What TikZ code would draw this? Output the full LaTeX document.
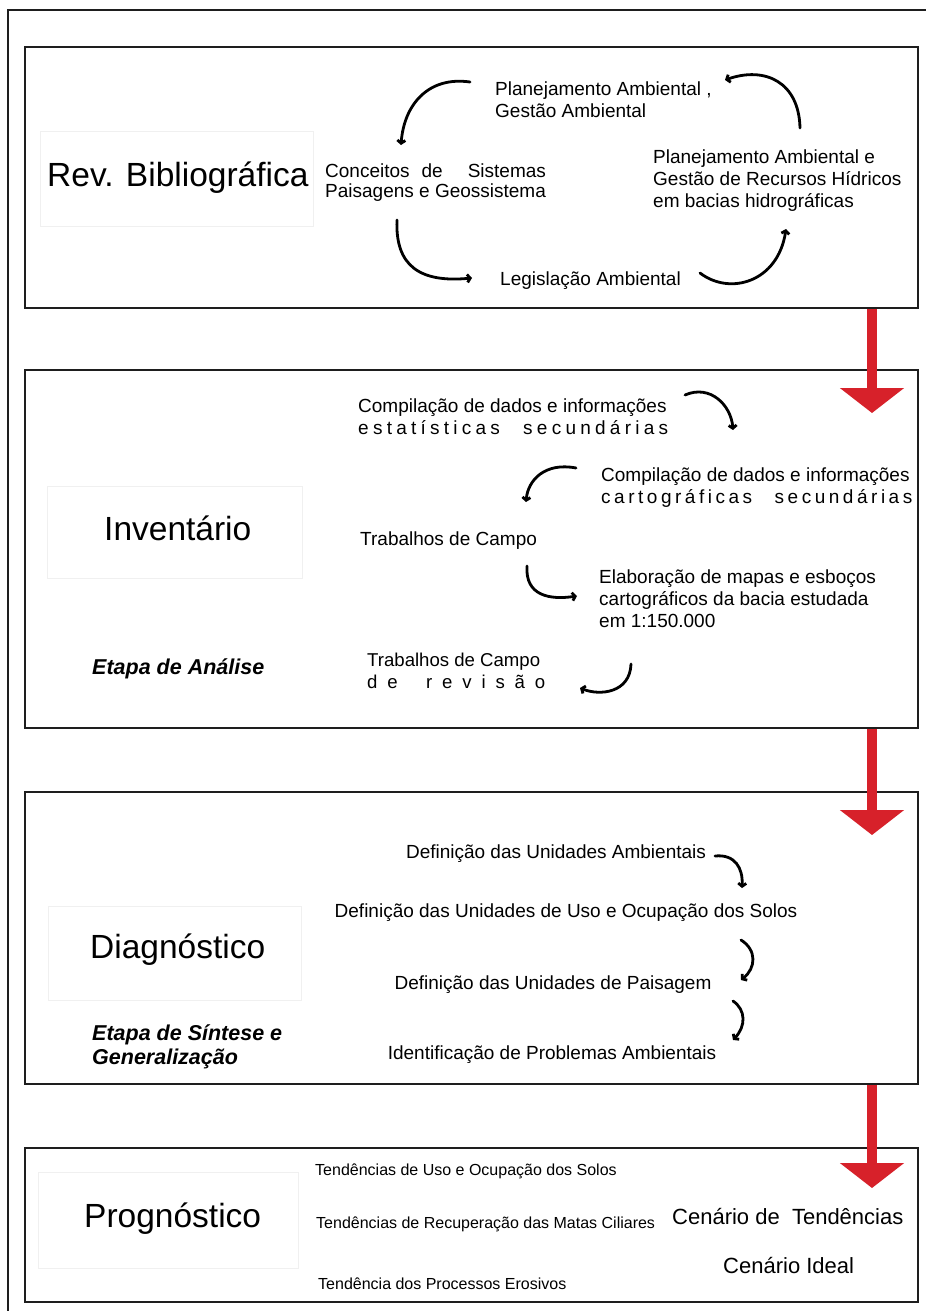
\documentclass[tikz,border=0pt]{standalone}
\usepackage{fontspec}
\setmainfont{Liberation Sans}
\usetikzlibrary{arrows.meta}
\definecolor{arrowred}{HTML}{D7212A}
\definecolor{boxline}{HTML}{1E1E1E}
\newcommand\fsz[2]{\fontsize{#1}{#2}\selectfont}
\begin{document}
\begin{tikzpicture}[x=1pt,y=-1pt,
 mybox/.style={draw=boxline,line width=2.6pt,minimum width=893pt,inner sep=0pt},
 faint/.style={draw=black!6,line width=1pt},
 txt/.style={inner sep=0pt,anchor=west,align=left,font=\fsz{19}{22}},
 ctxt/.style={inner sep=0pt,anchor=center,font=\fsz{19}{22}},
 smalltxt/.style={inner sep=0pt,anchor=west,font=\fsz{16}{19}},
 bigtxt/.style={inner sep=0pt,anchor=west,font=\fsz{22}{25}},
 titletxt/.style={inner sep=0pt,anchor=west,font=\fsz{33.5}{38}},
 stage/.style={inner sep=0pt,anchor=west,align=left,font=\fsz{21.5}{24}\bfseries\itshape},
 flow/.style={line width=2.8pt,line cap=round,-{Straight Barb[length=3pt,width=8pt]}},
 redarrow/.style={draw=arrowred,line width=10pt,-{Triangle[length=25pt,width=63pt]}}
]
\useasboundingbox (0,0) rectangle (926,1311);
\fill[white] (0,0) rectangle (926,1311);
% outer frame
\draw[line width=1.5pt,boxline] (8,1311) -- (8,10) -- (926,10);

% boxes
\node[mybox,minimum height=261pt] (box1) at (471.5,177.5) {};
\node[mybox,minimum height=358pt] (box2) at (471.5,549) {};
\node[mybox,minimum height=292pt] (box3) at (471.5,938) {};
\node[mybox,minimum height=154pt] (box4) at (471.5,1225) {};

% faint title frames
\draw[faint] (40,132) rectangle (313,226);
\draw[faint] (47,486) rectangle (302,578);
\draw[faint] (48,906) rectangle (301,1000);
\draw[faint] (38,1172) rectangle (298,1268);

% red arrows
\coordinate (r1) at (872,413);
\coordinate (r2) at (872,835);
\coordinate (r3) at (872,1188);
\draw[redarrow] (box1.south -| r1) -- (r1);
\draw[redarrow] (box2.south -| r2) -- (r2);
\draw[redarrow] (box3.south -| r3) -- (r3);

% ---- Box 1
\node[titletxt] (t1) at (47,178) {Rev. Bibliográfica};
\node[txt] (conca) at (325,171) {Conceitos\hspace{12pt}de\hspace{25pt}Sistemas};
\node[txt] (concb) at (325,193) {Paisagens e Geossistema};
\node[txt] (plan1) at (495,100) {Planejamento Ambiental ,\\Gestão Ambiental};
\node[txt] (plan2) at (653,181) {Planejamento Ambiental e\\Gestão de Recursos Hídricos\\em bacias hidrográficas};
\node[txt] (leg) at (500,281) {Legislação Ambiental};

\coordinate (c1s) at (470,82);  \coordinate (c1e) at (401,145);
\coordinate (c2s) at (800,128); \coordinate (c2e) at (725,80);
\coordinate (c3s) at (397,220); \coordinate (c3e) at (472,278);
\coordinate (c4s) at (700,273); \coordinate (c4e) at (786,229);
\draw[flow] (c1s) .. controls (428,76) and (404,105) .. (c1e);
\draw[flow] (c2s) .. controls (799,82) and (765,66) .. (c2e);
\draw[flow] (c3s) .. controls (395,266) and (420,283) .. (c3e);
\draw[flow] (c4s) .. controls (730,296) and (778,282) .. (c4e);

% ---- Box 2
\node[titletxt] (t2) at (104,528) {Inventário};
\node[stage] (s2) at (92,669) {Etapa de Análise};
\node[txt] (comp1) at (358,417) {Compilação de dados e informações\\\makebox[310pt][s]{e s t a t í s t i c a s \quad s e c u n d á r i a s}};
\node[txt] (comp2) at (601,488) {Compilação de dados e informações\\\makebox[310pt][s]{c a r t o g r á f i c a s \quad s e c u n d á r i a s}};
\node[txt] (trab) at (360,541) {Trabalhos de Campo};
\node[txt] (elab) at (599,599) {Elaboração de mapas e esboços\\cartográficos da bacia estudada\\em 1:150.000};
\node[txt,font=\fsz{18.6}{21.5}] (trabrev) at (367,671) {Trabalhos de Campo\\\makebox[178pt][s]{d e \quad r e v i s ã o}};

\coordinate (a1s) at (685,395); \coordinate (a1e) at (733,430);
\coordinate (a2s) at (576,468); \coordinate (a2e) at (526,502);
\coordinate (a3s) at (527,566); \coordinate (a3e) at (577,596);
\coordinate (a4s) at (631,664); \coordinate (a4e) at (580,688);
\draw[flow] (a1s) .. controls (710,384) and (731,405) .. (a1e);
\draw[flow] (a2s) .. controls (545,462) and (528,480) .. (a2e);
\draw[flow] (a3s) .. controls (525,596) and (550,600) .. (a3e);
\draw[flow] (a4s) .. controls (630,693) and (600,696) .. (a4e);

% ---- Box 3
\node[titletxt] (t3) at (90,950) {Diagnóstico};
\node[stage] (s3) at (92,1047) {Etapa de Síntese e\\Generalização};
\node[ctxt] (d1) at (556,854) {Definição das Unidades Ambientais};
\node[ctxt] (d2) at (566,913) {Definição das Unidades de Uso e Ocupação dos Solos};
\node[ctxt] (d3) at (553,985) {Definição das Unidades de Paisagem};
\node[ctxt] (d4) at (552,1055) {Identificação de Problemas Ambientais};

\coordinate (b1s) at (715,856);  \coordinate (b1e) at (742,888);
\coordinate (b2s) at (741,940);  \coordinate (b2e) at (741,980);
\coordinate (b3s) at (733,1001); \coordinate (b3e) at (733,1040);
\draw[flow] (b1s) .. controls (735,854) and (743,868) .. (b1e);
\draw[flow] (b2s) .. controls (757,950) and (756,968) .. (b2e);
\draw[flow] (b3s) .. controls (746,1010) and (746,1026) .. (b3e);

% ---- Box 4
\node[titletxt] (t4) at (84,1219) {Prognóstico};
\node[smalltxt] (p1) at (315,1171) {Tendências de Uso e Ocupação dos Solos};
\node[smalltxt] (p2) at (316,1224) {Tendências de Recuperação das Matas Ciliares};
\node[smalltxt] (p3) at (318,1284) {Tendência dos Processos Erosivos};
\node[bigtxt] (cen1) at (672,1216) {Cenário de\ \ Tendências};
\node[bigtxt] (cen2) at (723,1265) {Cenário Ideal};
\end{tikzpicture}
\end{document}
